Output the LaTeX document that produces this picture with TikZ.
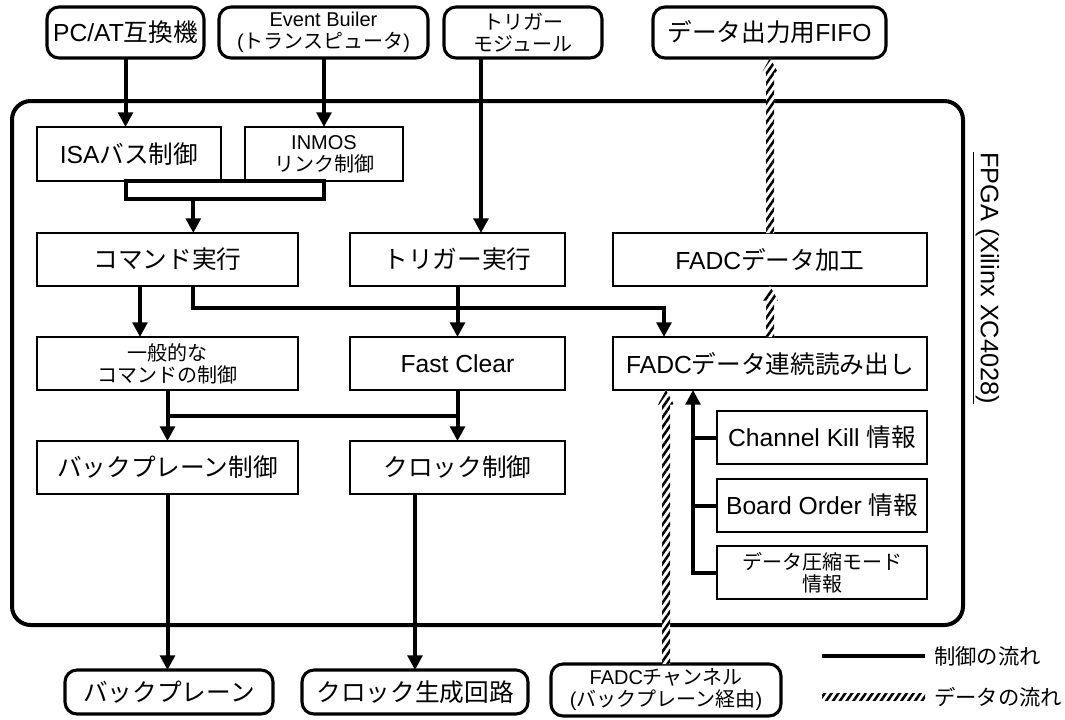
\documentclass[tikz,border=0pt]{standalone}
\usepackage{fontspec}
\setmainfont{Liberation Sans}
\newfontfamily\jpf{Noto Sans CJK JP}
\newcommand{\J}[1]{{\jpf #1}}
\usetikzlibrary{arrows.meta,calc,patterns.meta}
\newcommand{\bx}[7]{\node[#6, minimum width={(#4-#2)*0.75pt}, minimum height={(#5-#3)*0.75pt}] (#1) at ({(#2+#4)/2},{(#3+#5)/2}) {#7};}
\newcommand{\harrow}[2]{%
  \fill[hatch, preaction={fill=white}] let \p1=(#1), \p2=(#2) in
    (\x1-3pt,\y1) -- (\x1-3pt,\y2-11pt) -- (\x1-6pt,\y2-11pt) -- (\x1,\y2) --
    (\x1+6pt,\y2-11pt) -- (\x1+3pt,\y2-11pt) -- (\x1+3pt,\y1) -- cycle;}
\tikzset{
  big/.style={font=\fontsize{18.5}{21}\selectfont},
  small/.style={font=\fontsize{15}{16.5}\selectfont},
  box/.style={draw, line width=1.1pt, inner sep=0pt, outer sep=0pt, align=center, big},
  rbox/.style={draw, line width=2.3pt, rounded corners=9pt, inner sep=0pt, outer sep=0pt, align=center, big},
  frame/.style={draw, line width=3pt, rounded corners=14pt, inner sep=0pt, outer sep=0pt},
  barst/.style={draw, line width=3pt, inner sep=0pt, outer sep=0pt},
  ctrlline/.style={line width=3pt},
  ctrl/.style={line width=3pt, -{Triangle[width=11pt,length=11pt]}},
  hatch/.style={pattern={Lines[angle=55,distance=4.2pt,line width=1.9pt]}, pattern color=black},
}
\begin{document}
\begin{tikzpicture}[x=0.75pt,y=-0.75pt]
\useasboundingbox (0,0) rectangle (1065,719);
% frame
\bx{fpga}{12}{101}{963}{625}{frame}{}
\node[rotate=-90, font=\fontsize{19}{22}\selectfont, inner sep=0pt] (fpgal) at (986,278) {\underline{FPGA (Xilinx XC4028)}};
% top row
\bx{pc}{47}{7}{204}{58}{rbox}{PC/AT\J{互換機}}
\bx{eb}{219}{7}{428}{58}{rbox,small}{Event Builer\\(\J{トランスピュータ})}
\bx{trm}{444}{7}{602}{58}{rbox,small}{\J{トリガー}\\\J{モジュール}}
\bx{fifo}{653}{7}{886}{58}{rbox}{\J{データ出力用}FIFO}
% inner boxes
\bx{isa}{37}{127}{221}{181}{box}{ISA\J{バス制御}}
\bx{inmos}{245}{127}{403}{181}{box,small}{INMOS\\\J{リンク制御}}
\bx{bar}{126}{181}{324}{199}{barst}{}
\bx{cmd}{37}{233}{298}{286}{box}{\J{コマンド実行}}
\bx{trx}{350}{233}{565}{286}{box}{\J{トリガー実行}}
\bx{proc}{613}{233}{927}{286}{box}{FADC\J{データ加工}}
\bx{gen}{37}{337}{298}{390}{box,small}{\J{一般的な}\\\J{コマンドの制御}}
\bx{fc}{350}{337}{565}{390}{box}{Fast Clear}
\bx{read}{613}{337}{927}{390}{box}{FADC\J{データ連続読み出し}}
\bx{bpc}{37}{441}{298}{494}{box}{\J{バックプレーン制御}}
\bx{clk}{350}{441}{565}{494}{box}{\J{クロック制御}}
\bx{ck}{717}{411}{927}{464}{box}{Channel Kill \J{情報}}
\bx{bo}{717}{479}{927}{532}{box}{Board Order \J{情報}}
\bx{cm}{717}{546}{927}{599}{box,small}{\J{データ圧縮モード}\\\J{情報}}
% bottom row
\bx{bp}{65}{670}{273}{714}{rbox}{\J{バックプレーン}}
\bx{cg}{302}{670}{528}{714}{rbox}{\J{クロック生成回路}}
\bx{chan}{551}{664}{781}{716}{rbox,small}{FADC\J{チャンネル}\\(\J{バックプレーン経由})}
% control connectors
\draw[ctrl] (pc.south) -- (pc.south |- isa.north);
\draw[ctrl] (inmos.north |- eb.south) -- (inmos.north);
\coordinate (trmo) at ($(trm.south west)+(37,0)$);
\draw[ctrl] (trmo) -- (trmo |- trx.north);
\coordinate (baro) at ($(bar.south west)!0.34!(bar.south east)$);
\draw[ctrl] (baro) -- (baro |- cmd.north);
\coordinate (cmdo1) at ($(cmd.south west)+(103,0)$);
\draw[ctrl] (cmdo1) -- (cmdo1 |- gen.north);
\coordinate (cmdo2) at ($(cmd.south west)+(156,0)$);
\coordinate (readi) at ($(read.north west)+(51,0)$);
\draw[ctrl] (cmdo2) |- ($(readi)+(0,-29)$) -- (readi);
\draw[ctrl] (trx.south) -- (fc.north);
\draw[ctrl] (gen.south) -- (bpc.north);
\draw[ctrl] (fc.south) -- (clk.north);
\draw[ctrlline] ($(gen.south)!0.5!(bpc.north)$) -- ($(fc.south)!0.5!(clk.north)$);
\draw[ctrl] (bpc.south) -- (bpc.south |- bp.north);
\draw[ctrl] (cg.north |- clk.south) -- (cg.north);
\coordinate (readb) at ($(read.south west)+(80,0)$);
\draw[ctrl] (cm.west) -| (readb);
\draw[ctrlline] (ck.west) -- (ck.west -| readb);
\draw[ctrlline] (bo.west) -- (bo.west -| readb);
% data connectors
\harrow{chan.north}{chan.north |- read.south}
\harrow{read.north}{proc.south}
\harrow{proc.north}{proc.north |- fifo.south}
% legend
\coordinate (l1a) at (822,656);
\coordinate (l1b) at (925,656);
\draw[ctrlline] (l1a) -- (l1b);
\node[anchor=west, inner sep=0pt, font=\fontsize{16}{18}\selectfont] (leg1) at (934,656) {\J{制御の流れ}};
\coordinate (l2a) at (822,693.5);
\coordinate (l2b) at (925,700.5);
\fill[hatch] (l2a) rectangle (l2b);
\node[anchor=west, inner sep=0pt, font=\fontsize{16}{18}\selectfont] (leg2) at (934,697) {\J{データの流れ}};
\end{tikzpicture}
\end{document}
